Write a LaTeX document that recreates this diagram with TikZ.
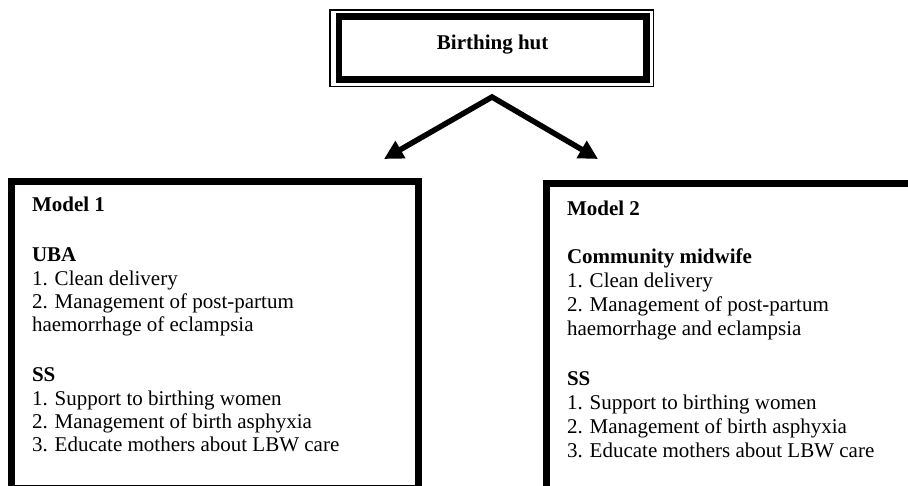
\documentclass[tikz,border=0pt]{standalone}
\usepackage{fontspec}
\setmainfont{Liberation Serif}
\usetikzlibrary{arrows.meta}
\begin{document}
\begin{tikzpicture}[x=1pt,y=-1pt,
  hutbox/.style={draw, line width=6.7pt, outer sep=0pt, inner sep=0pt,
    minimum width=307.3pt, minimum height=63pt,
    font=\fontsize{21}{24}\selectfont\bfseries, text height=14pt, text depth=10.4pt},
  modelbox/.style={draw, line width=7pt, outer sep=0pt, inner sep=0pt, anchor=north west},
  txtl/.style={font=\fontsize{21}{23.3}\selectfont, align=left, anchor=base west, inner sep=0pt, outer sep=0pt},
  txtr/.style={font=\fontsize{21}{24}\selectfont, align=left, anchor=base west, inner sep=0pt, outer sep=0pt},
  conn/.style={line width=5.5pt, {Triangle[length=19pt,width=19pt]}-{Triangle[length=19pt,width=19pt]}}
]
\useasboundingbox (0,0) rectangle (908,486);
\clip (0,0) rectangle (908,486);
\fill[white] (0,0) rectangle (908,486);

% top box
\node[hutbox] (hut) at (492.65,48.2) {Birthing hut};
\draw[line width=1.3pt] ([xshift=-9pt,yshift=6.7pt]hut.north west) rectangle ([xshift=7.2pt,yshift=-7pt]hut.south east);

% arrows
\coordinate (apex) at (492,97);
\coordinate (tipl) at (384,159);
\coordinate (tipr) at (598,159);
\draw[conn] (tipl) -- (apex) -- (tipr);

% model boxes
\node[modelbox, minimum width=407pt, minimum height=306pt] (box1) at (11.5,182) {};
\node[modelbox, minimum width=380pt, minimum height=320pt] (box2) at (546,184) {};

% texts (anchored at the baseline of their last line)
\node[txtl] (text1) at (32,451.7) {\textbf{Model 1}\\[26.8pt]
\textbf{UBA}\\
1. Clean delivery\\
2. Management of post-partum\\
haemorrhage of eclampsia\\[26.8pt]
\textbf{SS}\\
1. Support to birthing women\\
2. Management of birth asphyxia\\
3. Educate mothers about LBW care};

\node[txtr] (text2) at (567,457) {\textbf{Model 2}\\[24pt]
\textbf{Community midwife}\\
1. Clean delivery\\
2. Management of post-partum\\
haemorrhage and eclampsia\\[26pt]
\textbf{SS}\\
1. Support to birthing women\\
2. Management of birth asphyxia\\
3. Educate mothers about LBW care};
\end{tikzpicture}
\end{document}
